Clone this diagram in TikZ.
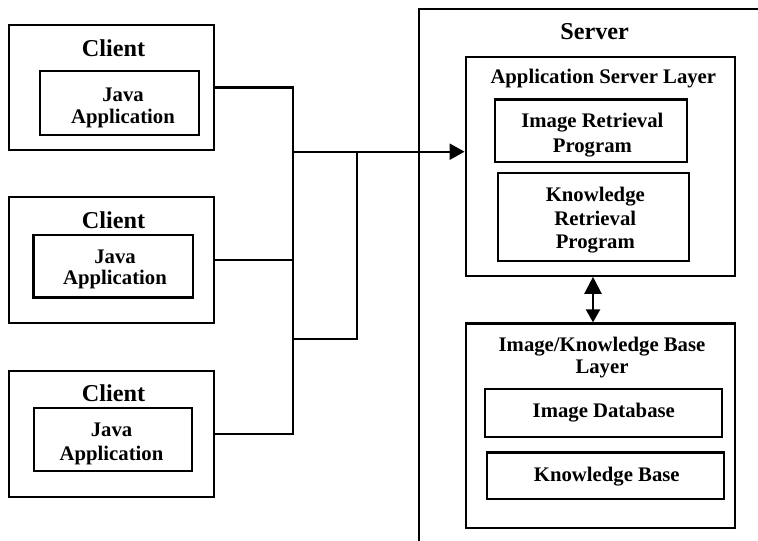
\documentclass[tikz,border=0pt]{standalone}
\usepackage{fontspec}
\setmainfont{Liberation Serif}
\usetikzlibrary{arrows.meta}
\begin{document}
\begin{tikzpicture}[x=1bp,y=-1bp,line width=2.2bp,
  frame/.style={draw,line width=2.2bp,inner sep=0pt},
  bigtitle/.style={inner sep=0pt,anchor=base,font=\bfseries\fontsize{24.3}{26}\selectfont},
  txt/.style={inner sep=0pt,anchor=base,align=center,font=\bfseries\fontsize{20.8}{#1}\selectfont},
  txt/.default=23,
  tip/.style={-{Triangle[length=15bp,width=16bp]}},
  dtip/.style={{Triangle[length=17bp,width=17bp]}-{Triangle[length=13bp,width=14bp]}}
]
\useasboundingbox (0,0) rectangle (758,541);
\clip (0,0) rectangle (758,541);
% clients
\node[frame,minimum width=205bp,minimum height=125bp] (c1) at (111.5,87.5) {};
\node[frame,minimum width=205bp,minimum height=126bp] (c2) at (111.5,260) {};
\node[frame,minimum width=205bp,minimum height=126bp] (c3) at (111.5,434) {};
\node[bigtitle] (t1) at (113.5,56.8) {Client};
\node[bigtitle] (t2) at (113.5,228.5) {Client};
\node[bigtitle] (t3) at (113.5,401.7) {Client};
\node[frame,minimum width=159bp,minimum height=64bp] (j1) at (119.5,103) {};
\node[frame,minimum width=159.5bp,minimum height=62.5bp] (j2) at (113.2,266.2) {};
\node[frame,minimum width=158bp,minimum height=63bp] (j3) at (113,439.5) {};
\node[txt=21.6] (j1t) at (123,123.2) {Java\\Application};
\node[txt=21.8] (j2t) at (115,285) {Java\\Application};
\node[txt=23.3] (j3t) at (111.5,460) {Java\\Application};
% server
\node[frame,minimum width=381bp,minimum height=591bp] (srv) at (609.5,304.5) {};
\node[bigtitle] (st) at (594.7,40) {Server};
\node[frame,minimum width=269.3bp,minimum height=219bp] (asl) at (600.35,166.2) {};
\node[txt] (aslt) at (603.3,83.3) {Application Server Layer};
\node[frame,minimum width=191.7bp,minimum height=62.2bp] (irp) at (590.85,130.6) {};
\node[txt=25] (irpt) at (592.4,152.3) {Image Retrieval\\Program};
\node[frame,minimum width=191bp,minimum height=88.1bp] (krp) at (593.8,216.75) {};
\node[txt=23.3] (krpt) at (595.3,248.3) {Knowledge\\Retrieval\\Program};
\node[frame,minimum width=269.3bp,minimum height=204.2bp] (ikb) at (600.35,425.6) {};
\node[txt=21.3] (ikbt) at (602,373) {Image/Knowledge Base\\Layer};
\node[frame,minimum width=236.7bp,minimum height=47.4bp] (idb) at (603.35,413) {};
\node[txt] (idbt) at (603.8,417) {Image Database};
\node[frame,minimum width=236.7bp,minimum height=46.5bp] (kb) at (605.65,475.75) {};
\node[txt] (kbt) at (606.8,481) {Knowledge Base};
% connectors
\coordinate (ba) at (293,151.7);
\coordinate (bb) at (357,151.7);
\coordinate (bd) at (293,339.3);
\coordinate (dx) at (593,0);
\draw (c1.east) -| (ba);
\draw (c2.east) -| (ba);
\draw (c3.east) -| (ba);
\draw (bb) |- (bd);
\draw[tip] (ba) -- (ba -| asl.west);
\draw[dtip] (dx |- asl.south) -- (dx |- ikb.north);
\end{tikzpicture}
\end{document}
